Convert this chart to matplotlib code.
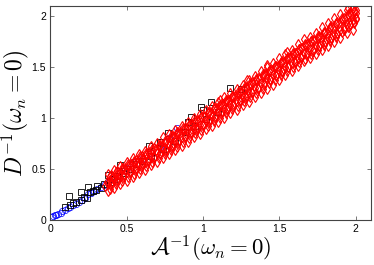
"""
Scatter of D^-1 against A^-1 at zero Matsubara frequency.
"""
import matplotlib
matplotlib.use("Agg")
import matplotlib.pyplot as plt

plt.rcParams["mathtext.fontset"] = "cm"
plt.rcParams["font.family"] = ["Liberation Sans", "DejaVu Sans"]

# blue circles
blue_x = [0.01, 0.02, 0.03, 0.04, 0.05, 0.07, 0.08, 0.10, 0.12, 0.13, 0.15, 0.17,
          0.19, 0.21, 0.23, 0.25, 0.27, 0.29, 0.31, 0.33, 0.35, 0.38, 0.42, 0.46,
          0.50, 0.54, 0.60, 0.66, 0.72, 0.78, 0.83]
blue_y = [0.03, 0.04, 0.05, 0.05, 0.06, 0.07, 0.09, 0.10, 0.12, 0.13, 0.15, 0.16,
          0.18, 0.20, 0.22, 0.25, 0.26, 0.28, 0.30, 0.32, 0.34, 0.37, 0.41, 0.47,
          0.51, 0.57, 0.60, 0.66, 0.72, 0.80, 0.90]

# black squares
black_x = [0.10, 0.125, 0.13, 0.15, 0.17, 0.20, 0.20, 0.22, 0.24, 0.25, 0.26, 0.28,
           0.30, 0.31, 0.33, 0.35, 0.38, 0.39, 0.42, 0.44, 0.46, 0.48, 0.52, 0.56,
           0.60, 0.65, 0.66, 0.72, 0.74, 0.77, 0.82, 0.88, 0.90, 0.92, 0.95, 0.99,
           1.00, 1.02, 1.05, 1.10, 1.18, 1.25]
black_y = [0.13, 0.235, 0.15, 0.17, 0.18, 0.27, 0.20, 0.23, 0.22, 0.32, 0.27, 0.28,
           0.29, 0.33, 0.31, 0.35, 0.44, 0.37, 0.40, 0.43, 0.54, 0.46, 0.50, 0.55,
           0.58, 0.73, 0.63, 0.77, 0.70, 0.85, 0.78, 0.86, 0.96, 1.01, 0.92, 1.11,
           1.08, 0.99, 1.16, 1.06, 1.30, 1.29]

# red diamonds, core of the band
red_x = [0.36, 0.37, 0.38, 0.39, 0.40, 0.41, 0.42, 0.43, 0.44, 0.45, 0.46, 0.47,
         0.48, 0.49, 0.50, 0.51, 0.52, 0.53, 0.54, 0.55, 0.56, 0.57, 0.58, 0.59,
         0.60, 0.61, 0.62, 0.63, 0.64, 0.65, 0.66, 0.67, 0.68, 0.69, 0.70, 0.71,
         0.72, 0.73, 0.74, 0.75, 0.76, 0.77, 0.78, 0.79, 0.80, 0.81, 0.82, 0.83,
         0.84, 0.85, 0.86, 0.87, 0.88, 0.89, 0.90, 0.91, 0.92, 0.93, 0.94, 0.95,
         0.96, 0.97, 0.98, 0.99, 1.00, 1.01, 1.02, 1.03, 1.04, 1.05, 1.06, 1.07,
         1.08, 1.09, 1.10, 1.11, 1.12, 1.13, 1.14, 1.15, 1.16, 1.17, 1.18, 1.19,
         1.20, 1.21, 1.22, 1.23, 1.24, 1.25, 1.26, 1.27, 1.28, 1.29, 1.30, 1.31,
         1.32, 1.33, 1.34, 1.35, 1.36, 1.37, 1.38, 1.39, 1.40, 1.41, 1.42, 1.43,
         1.44, 1.45, 1.46, 1.47, 1.48, 1.49, 1.50, 1.51, 1.52, 1.53, 1.54, 1.55,
         1.56, 1.57, 1.58, 1.59, 1.60, 1.61, 1.62, 1.63, 1.64, 1.65, 1.66, 1.67,
         1.68, 1.69, 1.70, 1.71, 1.72, 1.73, 1.74, 1.75, 1.76, 1.77, 1.78, 1.79,
         1.80, 1.81, 1.82, 1.83, 1.84, 1.85, 1.86, 1.87, 1.88, 1.89, 1.90, 1.91,
         1.92, 1.93, 1.94, 1.95, 1.96, 1.97, 1.98, 1.99, 1.99, 2.00, 1.98, 2.00,
         1.11, 1.29, 1.42, 1.55, 1.95]
red_y = [0.33, 0.37, 0.35, 0.39, 0.36, 0.42, 0.39, 0.44, 0.40, 0.45, 0.42, 0.49,
         0.44, 0.50, 0.47, 0.53, 0.47, 0.54, 0.50, 0.57, 0.51, 0.56, 0.54, 0.61,
         0.55, 0.60, 0.57, 0.64, 0.59, 0.66, 0.62, 0.68, 0.62, 0.69, 0.66, 0.72,
         0.66, 0.73, 0.69, 0.76, 0.70, 0.76, 0.73, 0.79, 0.74, 0.81, 0.77, 0.84,
         0.78, 0.85, 0.81, 0.88, 0.82, 0.89, 0.85, 0.93, 0.86, 0.93, 0.89, 0.96,
         0.90, 0.97, 0.93, 1.01, 0.94, 1.01, 0.97, 1.05, 0.98, 1.05, 1.01, 1.09,
         1.02, 1.10, 1.05, 1.12, 1.06, 1.14, 1.09, 1.16, 1.10, 1.18, 1.13, 1.21,
         1.14, 1.22, 1.17, 1.24, 1.18, 1.26, 1.21, 1.29, 1.22, 1.30, 1.25, 1.33,
         1.26, 1.34, 1.30, 1.37, 1.30, 1.38, 1.34, 1.41, 1.34, 1.43, 1.38, 1.46,
         1.38, 1.47, 1.42, 1.50, 1.42, 1.51, 1.46, 1.54, 1.46, 1.55, 1.50, 1.58,
         1.50, 1.59, 1.54, 1.63, 1.55, 1.64, 1.59, 1.68, 1.60, 1.69, 1.64, 1.73,
         1.64, 1.72, 1.68, 1.76, 1.67, 1.76, 1.71, 1.79, 1.71, 1.80, 1.75, 1.84,
         1.75, 1.84, 1.79, 1.88, 1.79, 1.88, 1.83, 1.92, 1.83, 1.93, 1.87, 1.96,
         1.87, 1.97, 1.92, 2.01, 1.91, 2.01, 1.96, 2.05, 1.94, 2.03, 2.08, 1.98,
         1.18, 1.37, 1.52, 1.65, 2.08]

# red diamonds, outer edges of the band
red_edge_x = [0.38, 0.42, 0.46, 0.50, 0.54, 0.58, 0.62, 0.66, 0.70, 0.74, 0.78,
              0.82, 0.86, 0.90, 0.94, 0.98, 1.02, 1.06, 1.10, 1.14, 1.18, 1.22,
              1.26, 1.30, 1.34, 1.38, 1.42, 1.46, 1.50, 1.54, 1.58, 1.62, 1.66,
              1.70, 1.74, 1.78, 1.82, 1.86, 1.90, 1.94, 1.98]
red_edge_lo = [0.28, 0.31, 0.35, 0.38, 0.42, 0.46, 0.49, 0.54, 0.57, 0.61, 0.65,
               0.69, 0.73, 0.77, 0.81, 0.84, 0.89, 0.92, 0.96, 1.00, 1.05, 1.08,
               1.13, 1.16, 1.21, 1.25, 1.29, 1.33, 1.37, 1.42, 1.46, 1.51, 1.56,
               1.59, 1.63, 1.67, 1.71, 1.75, 1.79, 1.84, 1.87]
red_edge_hi = [0.45, 0.49, 0.53, 0.57, 0.61, 0.65, 0.68, 0.73, 0.76, 0.81, 0.84,
               0.88, 0.92, 0.96, 1.00, 1.04, 1.08, 1.12, 1.16, 1.21, 1.25, 1.29,
               1.33, 1.37, 1.41, 1.46, 1.50, 1.54, 1.59, 1.63, 1.67, 1.73, 1.78,
               1.80, 1.84, 1.89, 1.93, 1.98, 2.02, 2.06, 2.08]

# red diamonds, filling between core and edges
red_mid_x = [0.40, 0.44, 0.48, 0.52, 0.56, 0.60, 0.64, 0.68, 0.72, 0.76, 0.80,
             0.84, 0.88, 0.92, 0.96, 1.00, 1.04, 1.08, 1.12, 1.16, 1.20, 1.24,
             1.28, 1.32, 1.36, 1.40, 1.44, 1.48, 1.52, 1.56, 1.60, 1.64, 1.68,
             1.72, 1.76, 1.80, 1.84, 1.88, 1.92, 1.96, 2.00]
red_mid_lo = [0.34, 0.38, 0.42, 0.46, 0.49, 0.53, 0.57, 0.61, 0.65, 0.68, 0.72,
              0.76, 0.80, 0.84, 0.88, 0.92, 0.96, 1.00, 1.04, 1.08, 1.12, 1.16,
              1.20, 1.25, 1.29, 1.33, 1.37, 1.41, 1.45, 1.50, 1.54, 1.59, 1.62,
              1.66, 1.71, 1.75, 1.79, 1.84, 1.88, 1.92, 1.97]
red_mid_hi = [0.44, 0.48, 0.51, 0.55, 0.59, 0.63, 0.67, 0.71, 0.74, 0.78, 0.82,
              0.86, 0.90, 0.94, 0.98, 1.02, 1.06, 1.10, 1.14, 1.18, 1.22, 1.26,
              1.31, 1.35, 1.39, 1.43, 1.47, 1.51, 1.56, 1.60, 1.64, 1.69, 1.73,
              1.77, 1.81, 1.85, 1.90, 1.94, 1.98, 2.03, 2.06]

# red diamonds, extra scatter between the rows
red_fill_x = [0.39, 0.43, 0.47, 0.51, 0.55, 0.59, 0.63, 0.67, 0.71, 0.75, 0.79,
              0.83, 0.87, 0.91, 0.95, 0.99, 1.03, 1.07, 1.11, 1.15, 1.19, 1.23,
              1.27, 1.31, 1.35, 1.39, 1.43, 1.47, 1.51, 1.55, 1.59, 1.63, 1.67,
              1.71, 1.75, 1.79, 1.83, 1.87, 1.91, 1.95, 1.99]
red_fill_lo = [0.30, 0.35, 0.38, 0.42, 0.45, 0.50, 0.53, 0.57, 0.61, 0.65, 0.69,
               0.72, 0.77, 0.80, 0.85, 0.88, 0.92, 0.97, 1.00, 1.05, 1.09, 1.12,
               1.17, 1.21, 1.25, 1.29, 1.34, 1.37, 1.42, 1.46, 1.50, 1.55, 1.58,
               1.63, 1.67, 1.72, 1.76, 1.80, 1.85, 1.89, 1.93]
red_fill_hi = [0.43, 0.47, 0.51, 0.55, 0.58, 0.63, 0.66, 0.70, 0.74, 0.78, 0.82,
               0.86, 0.90, 0.93, 0.98, 1.01, 1.06, 1.10, 1.13, 1.18, 1.22, 1.26,
               1.30, 1.34, 1.38, 1.43, 1.46, 1.51, 1.55, 1.59, 1.64, 1.68, 1.72,
               1.76, 1.81, 1.85, 1.89, 1.93, 1.98, 2.02, 2.05]

x_ticks = [0, 0.5, 1, 1.5, 2]
y_ticks = [0, 0.5, 1, 1.5, 2]
tick_labels = ["0", "0.5", "1", "1.5", "2"]


def main():
    fig = plt.figure(figsize=(3.74, 2.65), dpi=100)
    ax = fig.add_axes([0.134, 0.170, 0.858, 0.807])

    ax.plot(blue_x, blue_y, "o", ms=4.5, mfc="none", mec="blue", mew=0.5)
    ax.plot(black_x, black_y, "s", ms=5.0, mfc="none", mec="black", mew=0.6)

    rx = red_x + red_edge_x * 2 + red_mid_x * 2 + red_fill_x * 2
    ry = (red_y + red_edge_lo + red_edge_hi + red_mid_lo + red_mid_hi
          + red_fill_lo + red_fill_hi)
    ax.plot(rx, ry, "d", ms=5.2, mfc="none", mec="red", mew=0.8)

    ax.set_xlim(0, 2.1)
    ax.set_ylim(0, 2.1)
    ax.set_xticks(x_ticks)
    ax.set_yticks(y_ticks)
    ax.set_xticklabels(tick_labels)
    ax.set_yticklabels(tick_labels)
    ax.tick_params(direction="in", top=True, right=True, length=3, width=0.5,
                   labelsize=7.5, pad=3, color="#444444")
    for s in ax.spines.values():
        s.set_linewidth(0.8)
        s.set_color("#444444")

    ax.set_xlabel(r"$\mathcal{A}^{-1}(\omega_n=0)$", fontsize=16.5, labelpad=0)
    ax.set_ylabel(r"$D^{-1}(\omega_n=0)$", fontsize=17, labelpad=0)

    fig.savefig("out.png", dpi=100)


if __name__ == "__main__":
    main()
